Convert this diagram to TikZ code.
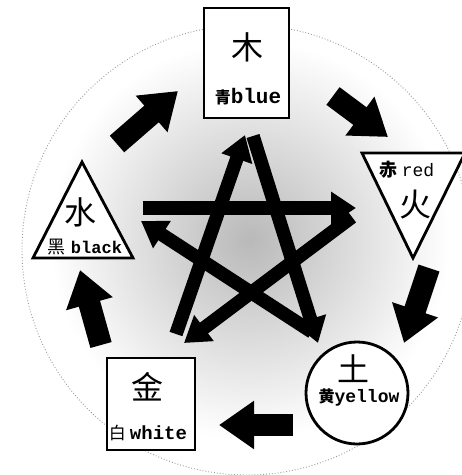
\documentclass[tikz,border=0pt]{standalone}
\usepackage{fontspec}
\usetikzlibrary{arrows.meta,shapes.geometric}
\newfontfamily\cjk{Noto Sans CJK SC}
\newfontfamily\lab{Liberation Mono}
\begin{document}
\begin{tikzpicture}[x=1pt,y=-1pt,
  starline/.style={line width=13.5pt,-{Triangle[length=25pt,width=31pt]}},
  cycarrow/.style={line width=22pt,-{Triangle[length=35pt,width=46pt]}},
  elem/.style={draw,line width=2.8pt,fill=white},
  bigc/.style={font=\cjk\fontsize{32}{32}\selectfont,inner sep=0pt}]
\useasboundingbox (0,0) rectangle (462,475);
% background tone
\shade[inner color=gray!55,outer color=white] (250,240) circle (200);
\draw[gray!80,dotted,line width=0.9pt] (247,250) circle (225);
% star (restraint cycle)
\coordinate (sT1) at (253,136); \coordinate (sBR) at (318,343);
\coordinate (sBR2) at (312,332); \coordinate (sL) at (141,221);
\coordinate (sL2) at (143,208); \coordinate (sR) at (356,208);
\coordinate (sR2) at (352,217); \coordinate (sBL) at (184,343);
\coordinate (sBL2) at (176,334); \coordinate (sT) at (245,135);
\draw[starline] (sT1) -- (sBR);
\draw[starline] (sBR2) -- (sL);
\draw[starline] (sL2) -- (sR);
\draw[starline] (sR2) -- (sBL);
\draw[starline] (sBL2) -- (sT);
% generation cycle arrows
\coordinate (a1s) at (117,144); \coordinate (a1e) at (178,91);
\coordinate (a2s) at (333,96);  \coordinate (a2e) at (388,137);
\coordinate (a3s) at (429,268); \coordinate (a3e) at (404,343);
\coordinate (a4s) at (293,425); \coordinate (a4e) at (219,425);
\coordinate (a5s) at (101,345); \coordinate (a5e) at (80,270);
\draw[cycarrow] (a1s) -- (a1e);
\draw[cycarrow] (a2s) -- (a2e);
\draw[cycarrow] (a3s) -- (a3e);
\draw[cycarrow] (a4s) -- (a4e);
\draw[cycarrow] (a5s) -- (a5e);
% elements
\node[elem,minimum width=85pt,minimum height=110pt,inner sep=0pt] (wood) at (246.5,63) {};
\node[elem,minimum width=88pt,minimum height=92pt,inner sep=0pt] (metal) at (151,404) {};
\node[elem,circle,minimum size=102pt,inner sep=0pt] (earth) at (357,393) {};
\coordinate (f1) at (362,153); \coordinate (f2) at (465,153); \coordinate (f3) at (413,258);
\draw[elem,line join=miter] (f1) -- (f2) -- (f3) -- cycle;
\coordinate (w1) at (82,162); \coordinate (w2) at (133,258); \coordinate (w3) at (33,258);
\draw[elem,line join=miter] (w1) -- (w2) -- (w3) -- cycle;
% texts
\node[bigc] (mu) at (247,47) {木};
\node[inner sep=0pt] (qing) at (248,97) {{\cjk\bfseries\fontsize{16}{16}\selectfont 青}{\lab\bfseries\fontsize{21}{21}\selectfont blue}};
\node[inner sep=0pt] (chi) at (407,170) {{\cjk\bfseries\fontsize{18}{18}\selectfont 赤}\hspace{4pt}{\lab\fontsize{18}{18}\selectfont red}};
\node[bigc] (huo) at (415,205) {火};
\node[bigc] (shui) at (80,212) {水};
\node[inner sep=0pt] (hei) at (85,247) {{\cjk\fontsize{18}{18}\selectfont 黑}\hspace{5pt}{\lab\bfseries\fontsize{17}{17}\selectfont black}};
\node[bigc] (tu) at (353,369) {土};
\node[inner sep=0pt] (huang) at (359,398) {{\cjk\bfseries\fontsize{16}{16}\selectfont 黄}{\lab\bfseries\fontsize{18}{18}\selectfont yellow}};
\node[bigc] (jin) at (147,387) {金};
\node[inner sep=0pt] (bai) at (148,433) {{\cjk\fontsize{17}{17}\selectfont 白}\hspace{4pt}{\lab\bfseries\fontsize{19}{19}\selectfont white}};
\end{tikzpicture}
\end{document}
